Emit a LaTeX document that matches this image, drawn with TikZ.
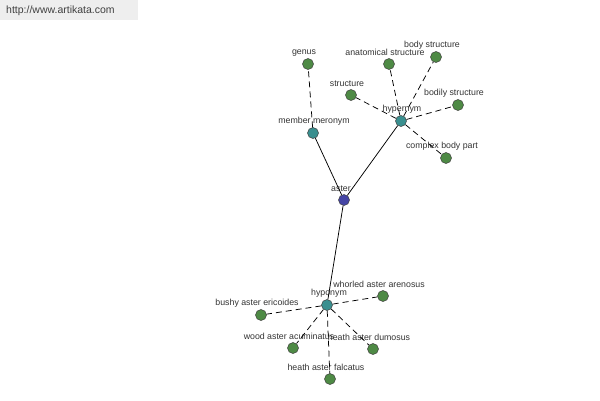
\documentclass[tikz,border=0pt]{standalone}
\usepackage{fontspec}
\setmainfont{Liberation Sans}
\usepackage{xcolor}
\usepackage{tikz}
\usetikzlibrary{arrows.meta,calc,positioning}

\definecolor{leafgreen}{HTML}{4E8A45}
\definecolor{hubteal}{HTML}{3A8F8F}
\definecolor{rootblue}{HTML}{4545A5}
\definecolor{bannergray}{HTML}{EEEEEE}

\tikzset{
  word/.style={circle,draw=black!75,line width=0.5pt,minimum size=11pt,inner sep=0pt},
  leaf/.style={word,fill=leafgreen},
  hub/.style={word,fill=hubteal},
  root/.style={word,fill=rootblue},
  lbl/.style={font=\fontsize{8.8}{10}\selectfont,text=black!80,inner sep=0pt,xshift=-4pt},
  rel/.style={draw=black,line width=0.75pt},
  weak/.style={rel,dash pattern=on 6pt off 4pt}
}

\begin{document}
\begin{tikzpicture}[x=1pt,y=-1pt]
\useasboundingbox (0,0) rectangle (600,400);
\fill[bannergray] (0,0) rectangle (138,20);
\node[font=\fontsize{10.5}{12}\selectfont,text=black!75,anchor=west,inner sep=0pt] (site) at (6,11) {http://www.artikata.com};

% centre and relation hubs
\node[root,label={[lbl,label distance=2pt,xshift=1pt]above:aster}] (aster) at (344,200) {};
\node[hub,label={[lbl,label distance=2pt,xshift=5pt]above:member meronym}] (meronym) at (313,133) {};
\node[hub,label={[lbl,label distance=2pt,xshift=5pt]above:hypernym}] (hypernym) at (401,121) {};
\node[hub,label={[lbl,label distance=2pt,xshift=6pt]above:hyponym}] (hyponym) at (327,305) {};

% words
\foreach \n/\x/\y/\t in {genus/308/64/genus,
    anatomical/389/64/anatomical structure,
    body/436/57/body structure,
    structure/351/95/structure,
    bodily/458/105/bodily structure,
    complex/446/158/complex body part,
    whorled/383/296/whorled aster arenosus,
    bushy/261/315/bushy aster ericoides,
    wood/293/348/wood aster acuminatus,
    dumosus/373/349/heath aster dumosus,
    falcatus/330/379/heath aster falcatus}
  \node[leaf,label={[lbl,label distance=2pt]above:\t}] (\n) at (\x,\y) {};

\draw[rel] (aster) -- (meronym);
\draw[rel] (aster) -- (hypernym);
\draw[rel] (aster) -- (hyponym);
\draw[weak] (meronym) -- (genus);
\foreach \n in {structure,anatomical,body,bodily,complex}
  \draw[weak] (hypernym) -- (\n);
\foreach \n in {whorled,bushy,wood,dumosus,falcatus}
  \draw[weak] (hyponym) -- (\n);
\end{tikzpicture}
\end{document}
